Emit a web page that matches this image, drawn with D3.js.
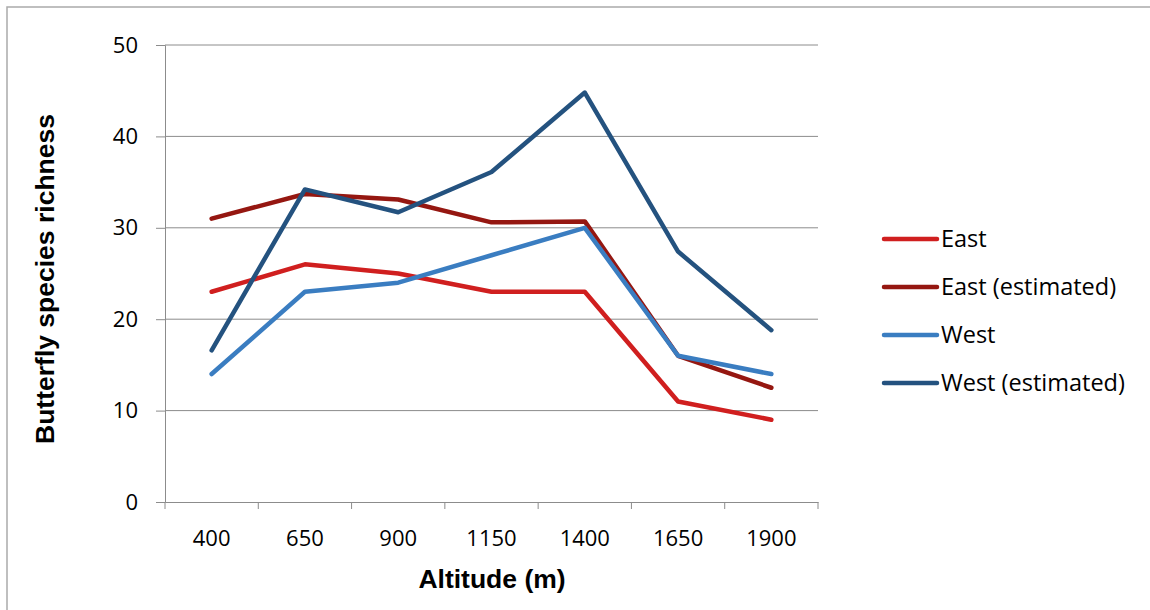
<!DOCTYPE html>
<html>
<head>
<meta charset="utf-8">
<script src="https://cdn.jsdelivr.net/npm/d3@7/dist/d3.min.js"></script>
<style>
  html, body { margin: 0; padding: 0; background: #fff; }
  svg { display: block; }
  .tick text { font-family: "Open Sans", sans-serif; font-size: 22px; fill: #000; }
</style>
</head>
<body>
<svg id="chart" width="1150" height="610"></svg>
<script>
const categories = ["400", "650", "900", "1150", "1400", "1650", "1900"];
const east =          [23, 26, 25, 23, 23, 11, 9];
const eastEstimated = [31, 33.7, 33.1, 30.6, 30.7, 16, 12.5];
const west =          [14, 23, 24, 27, 30, 16, 14];
const westEstimated = [16.6, 34.2, 31.7, 36.1, 44.8, 27.4, 18.8];
const seriesNames = ["East", "East (estimated)", "West", "West (estimated)"];
const yTicks = [0, 10, 20, 30, 40, 50];

const seriesValues = [east, eastEstimated, west, westEstimated];
const colors = ["#d01f1f", "#951711", "#3a7dc1", "#24527f"];

const svg = d3.select("#chart");

// outer frame
svg.append("rect").attr("x", 7).attr("y", 7).attr("width", 1160).attr("height", 620)
  .attr("fill", "none").attr("stroke", "#ababab").attr("stroke-width", 1.5);

const pLeft = 165, pRight = 818, pTop = 45, pBottom = 502;

const x = d3.scaleBand().domain(categories).range([pLeft, pRight]).padding(0);
const y = d3.scaleLinear().domain([0, 50]).range([pBottom, pTop]);

// gridlines
svg.append("g").selectAll("line").data(yTicks.filter(d => d > 0)).join("line")
  .attr("x1", pLeft).attr("x2", pRight)
  .attr("y1", d => y(d)).attr("y2", d => y(d))
  .attr("stroke", "#8c8c8c").attr("stroke-width", 1);

// y axis
const yAxis = svg.append("g").attr("transform", `translate(${pLeft},0)`)
  .call(d3.axisLeft(y).tickValues(yTicks).tickSize(9).tickPadding(18));
yAxis.select(".domain").attr("stroke", "#8c8c8c");
yAxis.selectAll(".tick line").attr("stroke", "#8c8c8c");

// x axis
const xAxis = svg.append("g").attr("transform", `translate(0,${pBottom})`)
  .call(d3.axisBottom(x).tickSize(0).tickPadding(28));
xAxis.select(".domain").attr("stroke", "#8c8c8c");
// category boundary ticks
xAxis.append("g").selectAll("line").data(d3.range(categories.length + 1)).join("line")
  .attr("x1", i => pLeft + i * x.bandwidth()).attr("x2", i => pLeft + i * x.bandwidth())
  .attr("y1", 0).attr("y2", 7).attr("stroke", "#8c8c8c");

// lines
const line = d3.line()
  .x((d, i) => x(categories[i]) + x.bandwidth() / 2)
  .y(d => y(d));

svg.append("g").selectAll("path").data(seriesValues).join("path")
  .attr("d", d => line(d))
  .attr("fill", "none")
  .attr("stroke", (d, i) => colors[i])
  .attr("stroke-width", 4.5)
  .attr("stroke-linejoin", "round")
  .attr("stroke-linecap", "round");

// axis titles
svg.append("text")
  .attr("x", 492).attr("y", 588)
  .attr("text-anchor", "middle")
  .attr("font-family", "Liberation Sans, Arial, sans-serif")
  .attr("font-weight", "bold").attr("font-size", 26.5)
  .text("Altitude (m)");

svg.append("text")
  .attr("transform", "translate(54,279) rotate(-90)")
  .attr("text-anchor", "middle")
  .attr("font-family", "Liberation Sans, Arial, sans-serif")
  .attr("font-weight", "bold").attr("font-size", 26.5)
  .text("Butterfly species richness");

// legend
const legend = svg.append("g");
const legendY = [239, 287, 335, 383];
seriesNames.forEach((name, i) => {
  const g = legend.append("g").attr("transform", `translate(0,${legendY[i]})`);
  g.append("line").attr("x1", 884).attr("x2", 937).attr("y1", 0).attr("y2", 0)
    .attr("stroke", colors[i]).attr("stroke-width", 4.5).attr("stroke-linecap", "round");
  g.append("text").attr("x", 941).attr("y", 0).attr("dy", "0.33em")
    .attr("font-family", "Open Sans, sans-serif").attr("font-size", 23.5)
    .text(name);
});
</script>
</body>
</html>
